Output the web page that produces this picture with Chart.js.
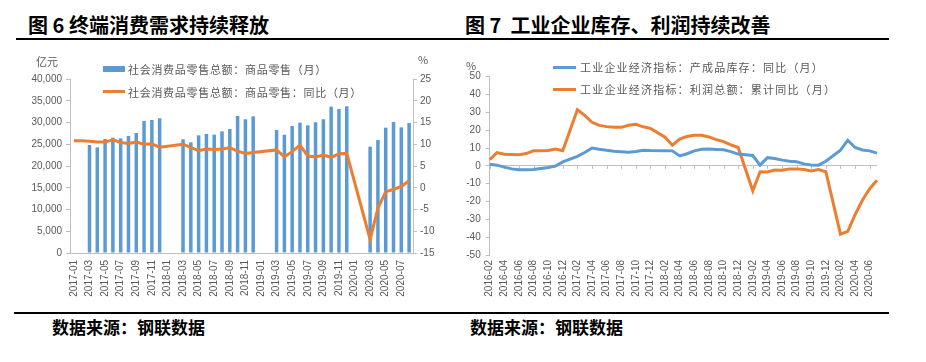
<!DOCTYPE html>
<html>
<head>
<meta charset="utf-8">
<script src="https://cdn.jsdelivr.net/npm/chart.js@4.4.1/dist/chart.umd.min.js"></script>
<style>
body{margin:0;background:#fff;}
#wrap{position:relative;width:926px;height:362px;overflow:hidden;font-family:"Noto Sans CJK SC",sans-serif;}
.abs{position:absolute;white-space:nowrap;}
.title{font-size:20px;font-weight:700;line-height:24px;color:#000;}
.src{font-size:17px;font-weight:700;line-height:20px;color:#000;}
.rule{position:absolute;height:2px;background:#000;}
.lg{font-size:11px;line-height:14px;color:#595959;}
.unit{font-size:11px;line-height:14px;color:#595959;}
.sw{position:absolute;}
canvas{position:absolute;}
</style>
</head>
<body>
<div id="wrap">
  <div class="abs title" style="left:28px;top:13px">图 6 终端消费需求持续释放</div>
  <div class="abs title" style="left:465px;top:13px">图 7&nbsp; 工业企业库存、利润持续改善</div>
  <div class="rule" style="left:16px;top:38px;width:873px"></div>
  <div class="rule" style="left:14px;top:312px;width:875px"></div>
  <div class="abs src" style="left:52px;top:317px">数据来源：钢联数据</div>
  <div class="abs src" style="left:470px;top:317px">数据来源：钢联数据</div>

  <canvas id="retail" width="463" height="260" style="left:0;top:45px"></canvas>
  <canvas id="industry" width="463" height="260" style="left:463px;top:45px"></canvas>

  <div class="abs unit" style="left:36px;top:54px">亿元</div>
  <div class="abs unit" style="left:418px;top:52px">%</div>
  <div class="abs unit" style="left:466px;top:58px">%</div>

  <div class="sw" style="left:103px;top:66px;width:22px;height:6px;background:#5B9BD5"></div>
  <div class="abs lg" style="left:128px;top:62px;letter-spacing:0.7px">社会消费品零售总额：商品零售（月）</div>
  <div class="sw" style="left:103px;top:90px;width:22px;height:3px;background:#ED7D31"></div>
  <div class="abs lg" style="left:128px;top:85px;letter-spacing:0.7px">社会消费品零售总额：商品零售：同比（月）</div>

  <div class="sw" style="left:553px;top:66px;width:23px;height:3px;background:#5B9BD5"></div>
  <div class="abs lg" style="left:580px;top:60px;letter-spacing:1.2px">工业企业经济指标：产成品库存：同比（月）</div>
  <div class="sw" style="left:553px;top:88px;width:23px;height:3px;background:#ED7D31"></div>
  <div class="abs lg" style="left:580px;top:82px;letter-spacing:1.2px">工业企业经济指标：利润总额：累计同比（月）</div>
</div>

<script>
// 图6 社会消费品零售总额：商品零售
const retailMonths = [
  '2017-01','2017-02','2017-03','2017-04','2017-05','2017-06','2017-07','2017-08','2017-09','2017-10','2017-11','2017-12',
  '2018-01','2018-02','2018-03','2018-04','2018-05','2018-06','2018-07','2018-08','2018-09','2018-10','2018-11','2018-12',
  '2019-01','2019-02','2019-03','2019-04','2019-05','2019-06','2019-07','2019-08','2019-09','2019-10','2019-11','2019-12',
  '2020-01','2020-02','2020-03','2020-04','2020-05','2020-06','2020-07','2020-08'
];
const retailSales = [
  null, null, 24830, 24290, 26210, 26510, 26360, 26900, 27590, 30350, 30580, 30960,
  null, null, 26130, 25440, 27050, 27360, 27200, 27970, 28500, 31490, 30730, 31420,
  null, null, 28280, 27200, 29200, 29960, 29350, 30040, 30730, 33640, 33100, 33720,
  null, null, 24440, 25980, 28810, 30120, 28890, 29890
];
const retailYoy = [
  10.8, 10.8, 10.7, 10.5, 10.5, 11.0, 10.4, 10.2, 10.5, 10.0, 10.1, 9.3,
  null, null, 10.0, 9.3, 8.5, 8.9, 8.8, 8.9, 9.2, 8.4, 7.9, 8.1,
  null, null, 8.7, 7.1, 8.3, 9.8, 7.3, 7.1, 7.5, 7.0, 7.8, 7.9,
  null, null, -11.9, -4.7, -0.9, -0.4, 0.3, 1.6
];

// 图7 工业企业经济指标
const industryMonths = [
  '2016-02','2016-03','2016-04','2016-05','2016-06','2016-07','2016-08','2016-09','2016-10','2016-11','2016-12',
  '2017-01','2017-02','2017-03','2017-04','2017-05','2017-06','2017-07','2017-08','2017-09','2017-10','2017-11','2017-12',
  '2018-01','2018-02','2018-03','2018-04','2018-05','2018-06','2018-07','2018-08','2018-09','2018-10','2018-11','2018-12',
  '2019-01','2019-02','2019-03','2019-04','2019-05','2019-06','2019-07','2019-08','2019-09','2019-10','2019-11','2019-12',
  '2020-01','2020-02','2020-03','2020-04','2020-05','2020-06','2020-07'
];
const inventoryYoy = [
  0.9, 0.4, -0.7, -1.7, -2.2, -2.2, -2.1, -1.5, -0.9, -0.1, 2.2,
  null, 5.3, 7.5, 10.0, 9.3, 8.7, 8.2, 7.9, 7.6, 8.0, 8.8, 8.6,
  null, 8.5, 8.4, 5.6, 6.8, 8.4, 9.3, 9.4, 9.2, 9.0, 8.0, 6.6,
  null, 5.8, 0.4, 4.6, 4.1, 3.2, 2.6, 2.3, 1.1, 0.5, 0.4, 2.6,
  null, 8.8, 14.4, 10.3, 8.9, 8.4, 7.1
];
const profitYoy = [
  3.5, 7.4, 6.5, 6.4, 6.2, 6.9, 8.4, 8.4, 8.6, 9.4, 8.5,
  null, 31.5, 28.3, 24.4, 22.7, 22.0, 21.6, 21.6, 22.8, 23.3, 21.9, 21.0,
  null, 16.1, 11.6, 15.0, 16.5, 17.2, 17.1, 16.2, 14.7, 13.6, 11.8, 10.3,
  null, -14.0, -3.3, -3.4, -2.3, -2.4, -1.7, -1.7, -2.1, -2.9, -2.1, -3.3,
  null, -38.3, -36.7, -27.4, -19.3, -12.8, -8.1
];

const axisGray = '#BFBFBF';
const textGray = '#595959';
const tickFont = { family: 'Liberation Sans', size: 10 };

function everyOther(value, index) {
  return index % 2 === 0 ? this.getLabelForValue(value) : '';
}

new Chart(document.getElementById('retail'), {
  data: {
    labels: retailMonths,
    datasets: [
      {
        type: 'line',
        data: retailYoy,
        yAxisID: 'y1',
        borderColor: '#ED7D31',
        borderWidth: 3,
        pointRadius: 0,
        spanGaps: true,
        order: 0
      },
      {
        type: 'bar',
        data: retailSales,
        yAxisID: 'y',
        backgroundColor: '#5B9BD5',
        barPercentage: 0.45,
        categoryPercentage: 1,
        order: 1
      }
    ]
  },
  options: {
    responsive: false,
    animation: false,
    layout: { padding: { top: 34, left: 0, right: 0, bottom: 0 } },
    plugins: { legend: { display: false }, tooltip: { enabled: false } },
    scales: {
      x: {
        offset: true,
        grid: { display: false, drawTicks: false },
        border: { color: axisGray },
        ticks: { autoSkip: false, minRotation: 90, maxRotation: 90, padding: 7, font: tickFont, color: textGray, callback: everyOther },
        afterFit(s) { s.height = 52; }
      },
      y: {
        position: 'left',
        min: 0, max: 40000,
        grid: { drawOnChartArea: false, tickLength: 4, color: axisGray },
        border: { color: axisGray },
        ticks: { stepSize: 5000, padding: 4, font: tickFont, color: textGray },
        afterFit(s) { s.width = 70; }
      },
      y1: {
        position: 'right',
        min: -15, max: 25,
        grid: { drawOnChartArea: false, tickLength: 4, color: axisGray },
        border: { color: axisGray },
        ticks: { stepSize: 5, padding: 3, font: tickFont, color: textGray },
        afterFit(s) { s.width = 50; }
      }
    }
  }
});

// small tick marks hanging under the zero line
const zeroTicks = {
  id: 'zeroTicks',
  beforeDatasetsDraw(chart) {
    const x = chart.scales.x, y = chart.scales.y;
    const y0 = y.getPixelForValue(0);
    const ctx = chart.ctx;
    ctx.save();
    ctx.strokeStyle = axisGray;
    ctx.lineWidth = 1;
    ctx.beginPath();
    for (let i = 0; i < industryMonths.length; i += 2) {
      const px = Math.round(x.getPixelForValue(i)) + 0.5;
      ctx.moveTo(px, y0);
      ctx.lineTo(px, y0 + 3);
    }
    ctx.stroke();
    ctx.restore();
  }
};

new Chart(document.getElementById('industry'), {
  type: 'line',
  data: {
    labels: industryMonths,
    datasets: [
      { data: inventoryYoy, borderColor: '#5B9BD5', borderWidth: 3, pointRadius: 0, spanGaps: true },
      { data: profitYoy, borderColor: '#ED7D31', borderWidth: 3, pointRadius: 0, spanGaps: true }
    ]
  },
  options: {
    responsive: false,
    animation: false,
    layout: { padding: { top: 31.7, left: 0, right: 49, bottom: 0 } },
    plugins: { legend: { display: false }, tooltip: { enabled: false } },
    scales: {
      x: {
        offset: false,
        grid: { display: false, drawTicks: false },
        border: { display: false },
        ticks: { autoSkip: false, minRotation: 90, maxRotation: 90, padding: 5, font: tickFont, color: textGray, callback: everyOther },
        afterFit(s) { s.height = 50; }
      },
      y: {
        min: -50, max: 50,
        grid: {
          tickLength: 4,
          tickColor: axisGray,
          color: c => (c.tick && c.tick.value === 0 ? axisGray : 'rgba(0,0,0,0)')
        },
        border: { color: axisGray },
        ticks: { stepSize: 10, padding: 5, font: tickFont, color: textGray },
        afterFit(s) { s.width = 26.7; }
      }
    }
  },
  plugins: [zeroTicks]
});
</script>
</body>
</html>
